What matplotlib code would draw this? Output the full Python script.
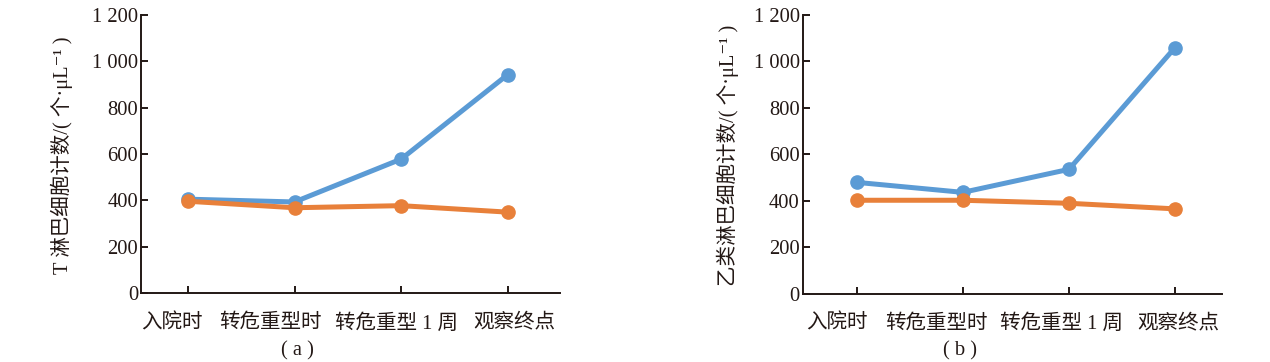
import matplotlib
matplotlib.use("Agg")
import matplotlib.pyplot as plt
import matplotlib.transforms as mtransforms

plt.rcParams['font.family'] = ['Liberation Serif', 'Noto Sans CJK SC', 'DejaVu Sans']

categories = ["入院时", "转危重型时", "转危重型 1 周", "观察终点"]
yticks = [0, 200, 400, 600, 800, 1000, 1200]
ytick_labels = ["0", "200", "400", "600", "800", "1 000", "1 200"]

# panel (a): T lymphocytes
t_blue = [405, 393, 578, 943]
t_orange = [396, 368, 377, 349]
# panel (b): B lymphocytes
b_blue = [480, 437, 536, 1060]
b_orange = [403, 403, 390, 366]

BLUE = "#5B9BD5"
ORANGE = "#E8803A"
INK = "#231815"
FS = 14.8

fig = plt.figure(figsize=(12.7, 3.62), dpi=100)

panels = [
    dict(rect=[0.111, 0.1906, 0.330, 0.768], xlim=(-0.44, 3.49), blue=t_blue, orange=t_orange,
         ylabel="T 淋巴细胞计数/( 个·μL⁻¹ )", ylabel_x=62, tag="( a )", tag_x=297,
         offsets=[-16, -24, -5, 6]),
    dict(rect=[0.632, 0.188, 0.330, 0.7706], xlim=(-0.51, 3.44), blue=b_blue, orange=b_orange,
         ylabel="乙类淋巴细胞计数/( 个·μL⁻¹ )", ylabel_x=728, tag="( b )", tag_x=960,
         offsets=[-20, -26, -7, 3]),
]

for p in panels:
    ax = fig.add_axes(p["rect"])
    x = list(range(len(categories)))
    ax.plot(x, p["blue"], color=BLUE, lw=3.6, marker="o", ms=9.5, solid_capstyle="round", zorder=3)
    ax.plot(x, p["orange"], color=ORANGE, lw=3.6, marker="o", ms=9.5, solid_capstyle="round", zorder=4)
    ax.set_xlim(*p["xlim"])
    ax.set_ylim(0, 1200)
    ax.set_yticks(yticks)
    ax.set_yticklabels(ytick_labels)
    ax.set_xticks(x)
    ax.set_xticklabels(categories)
    for s in ["top", "right"]:
        ax.spines[s].set_visible(False)
    for s in ["left", "bottom"]:
        ax.spines[s].set_color(INK)
        ax.spines[s].set_linewidth(1.4)
    ax.tick_params(axis="both", direction="in", length=5, width=1.4, color=INK,
                   labelsize=FS, labelcolor=INK)
    ax.tick_params(axis="x", pad=15)
    ax.tick_params(axis="y", pad=2)
    for lab, off in zip(ax.get_xticklabels(), p["offsets"]):
        lab.set_transform(lab.get_transform() + mtransforms.ScaledTranslation(off / 100, 0, fig.dpi_scale_trans))
    fig.text(p["ylabel_x"] / 1270, 1 - 155 / 362, p["ylabel"], rotation=90, ha="center", va="center",
             fontsize=FS, color=INK)
    fig.text(p["tag_x"] / 1270, 1 - 351 / 362, p["tag"], ha="center", va="center",
             fontsize=FS, color=INK)

fig.savefig("out.png", dpi=100)
